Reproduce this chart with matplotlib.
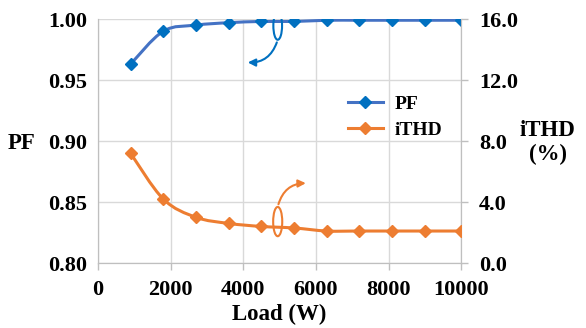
import matplotlib
matplotlib.use('Agg')
import matplotlib.pyplot as plt
from matplotlib.path import Path
from matplotlib.patches import PathPatch, Ellipse
from matplotlib.lines import Line2D

load = [900, 1800, 2700, 3600, 4500, 5400, 6300, 7200, 8100, 9000, 10000]
pf = [0.963, 0.990, 0.995, 0.997, 0.998, 0.998, 0.999, 0.999, 0.999, 0.999, 0.999]
ithd = [7.2, 4.2, 3.0, 2.6, 2.4, 2.3, 2.1, 2.1, 2.1, 2.1, 2.1]
x_ticks = [0, 2000, 4000, 6000, 8000, 10000]
pf_ticks = [0.80, 0.85, 0.90, 0.95, 1.00]
ithd_ticks = [0.0, 4.0, 8.0, 12.0, 16.0]

BLUE_LINE = '#4472C4'
BLUE_MARK = '#0070C0'
ORANGE = '#ED7D31'

plt.rcParams['font.family'] = ['Liberation Serif', 'DejaVu Serif']
plt.rcParams['font.weight'] = 'bold'


def smooth_path(xs, ys):
  # bezier segments through the points (Excel-style smoothed line)
  verts = [(xs[0], ys[0])]
  codes = [Path.MOVETO]
  n = len(xs)
  for i in range(n - 1):
    x0, y0 = (xs[i - 1], ys[i - 1]) if i > 0 else (xs[i], ys[i])
    x1, y1 = xs[i], ys[i]
    x2, y2 = xs[i + 1], ys[i + 1]
    x3, y3 = (xs[i + 2], ys[i + 2]) if i + 2 < n else (x2, y2)
    c1 = (x1 + (x2 - x0) / 6, y1 + (y2 - y0) / 6)
    c2 = (x2 - (x3 - x1) / 6, y2 - (y3 - y1) / 6)
    verts += [c1, c2, (x2, y2)]
    codes += [Path.CURVE4] * 3
  return Path(verts, codes)


fig = plt.figure(figsize=(5.86, 3.28), dpi=100)
ax = fig.add_axes([0.167, 0.198, 0.620, 0.744])
ax2 = ax.twinx()

ax.set_xlim(0, 10000)
ax.set_ylim(0.80, 1.00)
ax2.set_ylim(0, 16)

ax.set_xticks(x_ticks)
ax.set_yticks(pf_ticks)
ax.set_yticklabels([f'{v:.2f}' for v in pf_ticks])
ax2.set_yticks(ithd_ticks)
ax2.set_yticklabels([f'{v:.1f}' for v in ithd_ticks])

ax.grid(True, color='#D9D9D9', linewidth=1.0)
ax.set_axisbelow(True)
for a in (ax, ax2):
  a.spines['top'].set_visible(False)
  for s in ('left', 'right', 'bottom'):
    a.spines[s].set_color('#BFBFBF')
  a.tick_params(colors='#BFBFBF', labelcolor='black', labelsize=16, length=4, width=1)
ax.tick_params(axis='y', length=0, pad=8)
ax2.tick_params(axis='y', length=5, pad=8)
ax.tick_params(axis='x', length=5, pad=7)

ax.add_patch(PathPatch(smooth_path(load, pf), facecolor='none', edgecolor=BLUE_LINE,
                       linewidth=2.2, zorder=3))
ax.plot(load, pf, linestyle='none', marker='D', markersize=6.5, color=BLUE_MARK, zorder=4)
ax2.add_patch(PathPatch(smooth_path(load, ithd), facecolor='none', edgecolor=ORANGE,
                        linewidth=2.2, zorder=3))
ax2.plot(load, ithd, linestyle='none', marker='D', markersize=6.5, color=ORANGE, zorder=4)

# ellipse + arrow markers pointing at each axis
ax.add_patch(Ellipse((4950, 0.9945), 240, 0.023, facecolor='none', edgecolor=BLUE_MARK,
                     linewidth=1.5, zorder=5))
ax.annotate('', xy=(4050, 0.9645), xytext=(4950, 0.983),
            arrowprops=dict(arrowstyle='-|>', color=BLUE_MARK, lw=1.5, mutation_scale=11,
                            connectionstyle='arc3,rad=-0.4'), zorder=5)
ax.add_patch(Ellipse((4950, 0.8340), 250, 0.024, facecolor='none', edgecolor=ORANGE,
                     linewidth=1.5, zorder=5))
ax.annotate('', xy=(5800, 0.8655), xytext=(4950, 0.846),
            arrowprops=dict(arrowstyle='-|>', color=ORANGE, lw=1.5, mutation_scale=11,
                            connectionstyle='arc3,rad=-0.4'), zorder=5)

ax.set_xlabel('Load (W)', fontsize=16.5, fontweight='bold', labelpad=3)
fig.text(0.036, 0.563, 'PF', fontsize=16.5, fontweight='bold', ha='center', va='center')
fig.text(0.935, 0.565, 'iTHD\n(%)', fontsize=16.5, fontweight='bold', ha='center',
         va='center', linespacing=1.15)

handles = [Line2D([], [], color=BLUE_LINE, marker='D', markersize=6.5, markerfacecolor=BLUE_MARK,
                  markeredgecolor=BLUE_MARK, linewidth=2.2),
           Line2D([], [], color=ORANGE, marker='D', markersize=6.5, linewidth=2.2)]
leg = ax2.legend(handles, ['PF', 'iTHD'], loc='upper left', bbox_to_anchor=(0.64, 0.76),
                 frameon=False, handlelength=1.8, labelspacing=0.45, handletextpad=0.6,
                 prop={'weight': 'bold', 'size': 14})

fig.savefig('out.png', dpi=100)
